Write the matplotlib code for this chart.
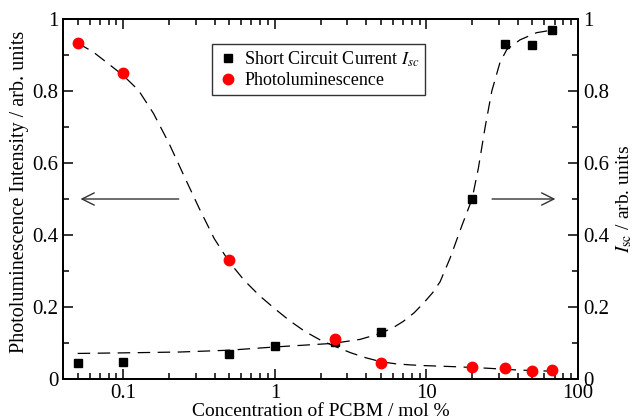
import numpy as np
import matplotlib
matplotlib.use("Agg")
import matplotlib.pyplot as plt
from matplotlib.ticker import MultipleLocator, LogLocator, NullFormatter, FixedFormatter, FixedLocator

plt.rcParams['font.family'] = ['Liberation Serif', 'DejaVu Serif']
plt.rcParams['mathtext.fontset'] = 'stix'

# PCBM concentration (mol %)
conc = [0.05, 0.1, 0.5, 1, 2.5, 5, 20, 33, 50, 67]
isc = [0.044, 0.046, 0.069, 0.092, 0.102, 0.130, 0.500, 0.930, 0.928, 0.969]
conc_pl = [0.05, 0.1, 0.5, 2.5, 5, 20, 33, 50, 67]
pl = [0.933, 0.849, 0.330, 0.110, 0.045, 0.033, 0.030, 0.022, 0.025]

# guide-to-the-eye curves
pl_fit_x = [0.05, 0.063, 0.079, 0.1, 0.126, 0.158, 0.2, 0.251, 0.316, 0.398, 0.5,
            0.631, 0.794, 1, 1.26, 1.58, 2, 2.51, 3.16, 3.98, 5.01, 6.31, 7.94,
            10, 15.8, 25.1, 39.8, 63.1, 67]
pl_fit_y = [0.933, 0.909, 0.877, 0.843, 0.802, 0.738, 0.655, 0.565, 0.475, 0.390, 0.325,
            0.273, 0.231, 0.195, 0.161, 0.132, 0.108, 0.090, 0.073, 0.059, 0.048, 0.042,
            0.039, 0.037, 0.034, 0.030, 0.025, 0.022, 0.022]
isc_fit_x = [0.05, 0.117, 0.238, 0.5, 1, 2.43, 3.65, 5.0, 6.05, 7.03, 8.3, 9.53, 11,
             12.3, 14.3, 17.1, 20, 22.0, 24.4, 27, 30.6, 33.9, 41.4, 53.3, 67]
isc_fit_y = [0.071, 0.073, 0.075, 0.080, 0.089, 0.099, 0.110, 0.127, 0.143, 0.160, 0.184,
             0.210, 0.240, 0.270, 0.335, 0.425, 0.500, 0.585, 0.700, 0.800, 0.880, 0.915,
             0.942, 0.962, 0.969]

fig = plt.figure(figsize=(6.32, 4.16), dpi=100)
ax = fig.add_axes([63/632, 1-379/416, 515/632, 360/416])

dash = (0, (10, 6))
ax.plot(isc_fit_x, isc_fit_y, color='black', lw=0.9, ls=dash, zorder=2)
ax.plot(pl_fit_x, pl_fit_y, color='black', lw=0.9, ls=dash, zorder=2)
ax.plot(conc, isc, ls='none', marker='s', ms=5.5, color='black', zorder=3,
        label=r'Short Circuit Current $I_{sc}$')
ax.plot(conc_pl, pl, ls='none', marker='o', ms=7.5, color='red', mec='red', zorder=4,
        label='Photoluminescence')

# arrows pointing to the relevant axis
ax.annotate('', xy=(0.05, 0.5), xytext=(0.242, 0.5),
            arrowprops=dict(arrowstyle='->', color='#333333', lw=1, mutation_scale=22))
ax.annotate('', xy=(74, 0.5), xytext=(26, 0.5),
            arrowprops=dict(arrowstyle='->', color='#333333', lw=1, mutation_scale=22))

ax.set_xscale('log')
ax.set_xlim(0.04, 100)
ax.set_ylim(0, 1)
ax.xaxis.set_major_locator(FixedLocator([0.1, 1, 10, 100]))
ax.xaxis.set_major_formatter(FixedFormatter(['0.1', '1', '10', '100']))
ax.xaxis.set_minor_locator(LogLocator(base=10, subs=np.arange(2, 10)))
ax.xaxis.set_minor_formatter(NullFormatter())
ax.set_yticks([0, 0.2, 0.4, 0.6, 0.8, 1.0])
ax.set_yticklabels(['0', '0.2', '0.4', '0.6', '0.8', '1'])
ax.yaxis.set_minor_locator(MultipleLocator(0.1))
ax.tick_params(which='both', direction='in', top=True, labelsize=15, width=1.1)
ax.tick_params(axis='y', which='both', right=False)
ax.tick_params(which='major', length=7)
ax.tick_params(which='minor', length=4)
for s in ax.spines.values():
    s.set_linewidth(1.3)

ax.set_xlabel('Concentration of PCBM / mol %', fontsize=14, labelpad=0)
ax.set_ylabel('Photoluminescence Intensity / arb. units', fontsize=14.5)
ax.yaxis.set_label_coords(-0.066, 0.52)

ax2 = ax.twinx()
ax2.set_ylim(0, 1)
ax2.set_yticks([0, 0.2, 0.4, 0.6, 0.8, 1.0])
ax2.set_yticklabels(['0', '0.2', '0.4', '0.6', '0.8', '1'])
ax2.yaxis.set_minor_locator(MultipleLocator(0.1))
ax2.tick_params(which='both', direction='in', labelsize=15, width=1.1)
ax2.tick_params(which='major', length=7)
ax2.tick_params(which='minor', length=4)
ax2.set_ylabel(r'$I_{\rm sc}$ / arb. units', fontsize=14, rotation=90, labelpad=4)
for s in ax2.spines.values():
    s.set_linewidth(1.3)

leg = ax.legend(loc='upper left', bbox_to_anchor=(0.289, 0.931), borderaxespad=0,
                fontsize=13, frameon=True, fancybox=False, edgecolor='black',
                handlelength=1.2, handletextpad=0.3, borderpad=0.3, labelspacing=0.2)
leg.get_frame().set_linewidth(1.0)

fig.savefig('out.png', dpi=100)
